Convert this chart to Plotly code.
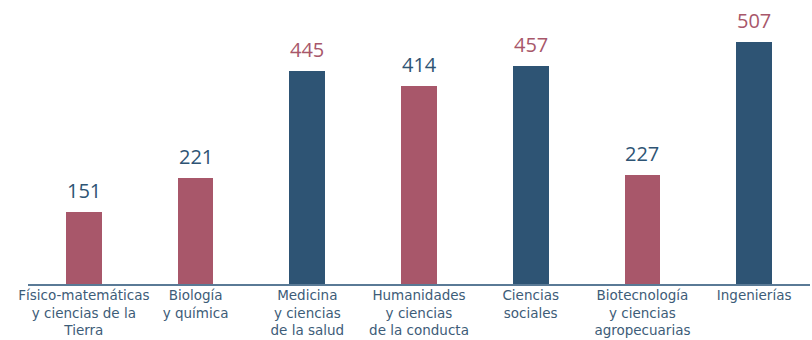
import plotly.graph_objects as go

categories = [
    "Físico-matemáticas<br>y ciencias de la<br>Tierra",
    "Biología<br>y química",
    "Medicina<br>y ciencias<br>de la salud",
    "Humanidades<br>y ciencias<br>de la conducta",
    "Ciencias<br>sociales",
    "Biotecnología<br>y ciencias<br>agropecuarias",
    "Ingenierías",
]
values = [151, 221, 445, 414, 457, 227, 507]

RED = "#A8576A"
BLUE = "#2E5474"
bar_colors = [RED, RED, BLUE, RED, BLUE, RED, BLUE]
label_colors = [BLUE if c == RED else RED for c in bar_colors]

FONT = "Open Sans"
TICKFONT = "DejaVu Sans"

fig = go.Figure()
fig.add_trace(go.Bar(
    x=categories,
    y=values,
    marker=dict(color=bar_colors, line=dict(width=0)),
    width=0.32,
    hoverinfo="skip",
))

for c, v, lc in zip(categories, values, label_colors):
    fig.add_annotation(
        x=c, y=v, text=str(v), showarrow=False,
        yanchor="bottom", yshift=6,
        font=dict(family=FONT, size=20, color=lc),
    )

fig.update_layout(
    width=812, height=340,
    margin=dict(l=28, r=2, t=0, b=56),
    paper_bgcolor="white", plot_bgcolor="white",
    showlegend=False,
    bargap=0,
    font=dict(family=FONT, color="#3D5C78"),
)
fig.update_xaxes(
    showline=True, linecolor="#5A7A96", linewidth=2,
    showgrid=False, zeroline=False, ticks="",
    tickfont=dict(family=TICKFONT, size=13.5, color="#3D5C78"),
    ticklabelstandoff=-2,
    tickangle=0, automargin=False,
)
fig.update_yaxes(
    range=[0, 594], visible=False, showgrid=False, zeroline=False,
    automargin=False,
)

fig.write_html("out.html")
